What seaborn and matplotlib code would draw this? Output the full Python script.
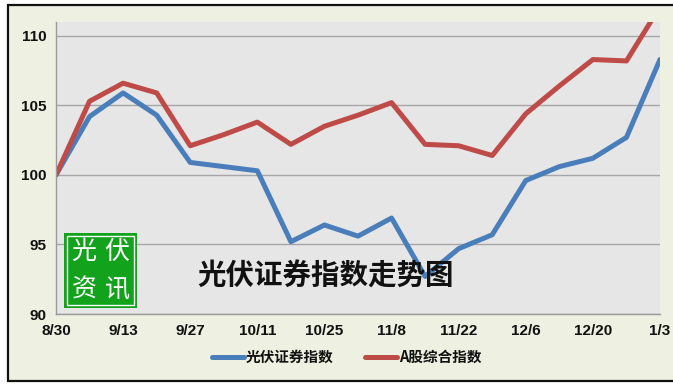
import matplotlib
matplotlib.use("Agg")
import matplotlib.pyplot as plt
import seaborn as sns
import pandas as pd
from matplotlib.patches import Rectangle

dates = ["8/30", "9/6", "9/13", "9/20", "9/27", "10/4", "10/11", "10/18", "10/25", "11/1",
         "11/8", "11/15", "11/22", "11/29", "12/6", "12/13", "12/20", "12/27", "1/3"]
pv_index = [100.0, 104.2, 105.9, 104.3, 100.9, 100.6, 100.3, 95.2, 96.4, 95.6,
            96.9, 92.7, 94.7, 95.7, 99.6, 100.6, 101.2, 102.7, 108.3]
a_index = [100.0, 105.3, 106.6, 105.9, 102.1, 102.9, 103.8, 102.2, 103.5, 104.3,
           105.2, 102.2, 102.1, 101.4, 104.4, 106.4, 108.3, 108.2, 112.1]
series_names = ["光伏证券指数", "A股综合指数"]
tick_labels = ["8/30", "9/13", "9/27", "10/11", "10/25", "11/8", "11/22", "12/6", "12/20", "1/3"]
y_ticks = [90, 95, 100, 105, 110]

days = [7 * i for i in range(len(dates))]
df = pd.DataFrame({
    "day": days * 2,
    "value": pv_index + a_index,
    "series": [series_names[0]] * len(days) + [series_names[1]] * len(days),
})

sns.set_theme(style="white")
plt.rcParams["font.family"] = ["Liberation Sans", "Noto Sans CJK SC", "DejaVu Sans"]

W, H = 673, 386
fig = plt.figure(figsize=(W / 100, H / 100), dpi=100)
fig.patch.set_facecolor("white")
# outer frame with cream background
fig.patches.append(Rectangle((8 / W, 1 - 381 / H), (W + 10 - 8) / W, (381 - 5) / H,
                             transform=fig.transFigure, facecolor="#EEF0E1",
                             edgecolor="#111111", linewidth=1.6, zorder=-5))

ax = fig.add_axes([56 / W, 1 - 314 / H, (660 - 56) / W, (314 - 22) / H])
ax.set_zorder(1)
ax.set_facecolor("#E6E6E6")

palette = {series_names[0]: "#4A7EBB", series_names[1]: "#BE4B48"}
sns.lineplot(data=df, x="day", y="value", hue="series", palette=palette,
             linewidth=3.6, ax=ax, legend=True)

ax.set_xlim(0, days[-1])
ax.set_ylim(90, 111.0)
ax.set_yticks(y_ticks)
ax.set_yticklabels([str(v) for v in y_ticks])
ax.set_xticks(days[::2])
ax.set_xticklabels(tick_labels)
ax.yaxis.grid(True, color="#A6A6A6", linewidth=1.0)
ax.set_axisbelow(True)
for s in ["top", "right"]:
    ax.spines[s].set_visible(False)
for s in ["left", "bottom"]:
    ax.spines[s].set_color("#9A9A9A")
    ax.spines[s].set_linewidth(1.0)
ax.tick_params(axis="both", direction="out", length=5, width=1, color="#9A9A9A",
               labelsize=11, pad=2)
for lab in ax.get_xticklabels() + ax.get_yticklabels():
    lab.set_fontweight("bold")
    lab.set_color("#111111")
ax.set_xlabel("")
ax.set_ylabel("")

handles, labels = ax.get_legend_handles_labels()
leg = fig.legend(handles, labels, loc="center", bbox_to_anchor=(0.515, 1 - 357 / H),
                 ncol=2, frameon=False, handlelength=2.2, handletextpad=0.1,
                 columnspacing=2.2,
                 prop={"family": ["Noto Sans CJK SC", "DejaVu Sans"], "weight": "bold", "size": 10.5})
for t in leg.get_texts():
    t.set_color("#111111")
ax.get_legend().remove()

# title text inside plot
fig.text(197 / W, 1 - 277 / H, "光伏证券指数走势图", ha="left", va="center",
         fontsize=20.5, family=["Noto Sans CJK SC", "DejaVu Sans"], fontweight="bold",
         color="#111111", zorder=10)

# green logo
lx0, ly0, lx1, ly1 = 64, 233, 137, 308
fig.patches.append(Rectangle((lx0 / W, 1 - ly1 / H), (lx1 - lx0) / W, (ly1 - ly0) / H,
                             transform=fig.transFigure, facecolor="#12A21C",
                             edgecolor="none", zorder=5))
fig.patches.append(Rectangle(((lx0 + 3) / W, 1 - (ly1 - 3) / H), (lx1 - lx0 - 6) / W,
                             (ly1 - ly0 - 6) / H, transform=fig.transFigure,
                             facecolor="none", edgecolor="white", linewidth=1.0, zorder=6))
for ch, cx, cy in [("光", 84, 252), ("伏", 117, 252), ("资", 84, 290), ("讯", 117, 290)]:
    fig.text(cx / W, 1 - cy / H, ch, ha="center", va="center",
             fontsize=18, color="white", family=["Noto Sans CJK SC"], zorder=7)

fig.savefig("out.png", dpi=100, facecolor=fig.get_facecolor())
